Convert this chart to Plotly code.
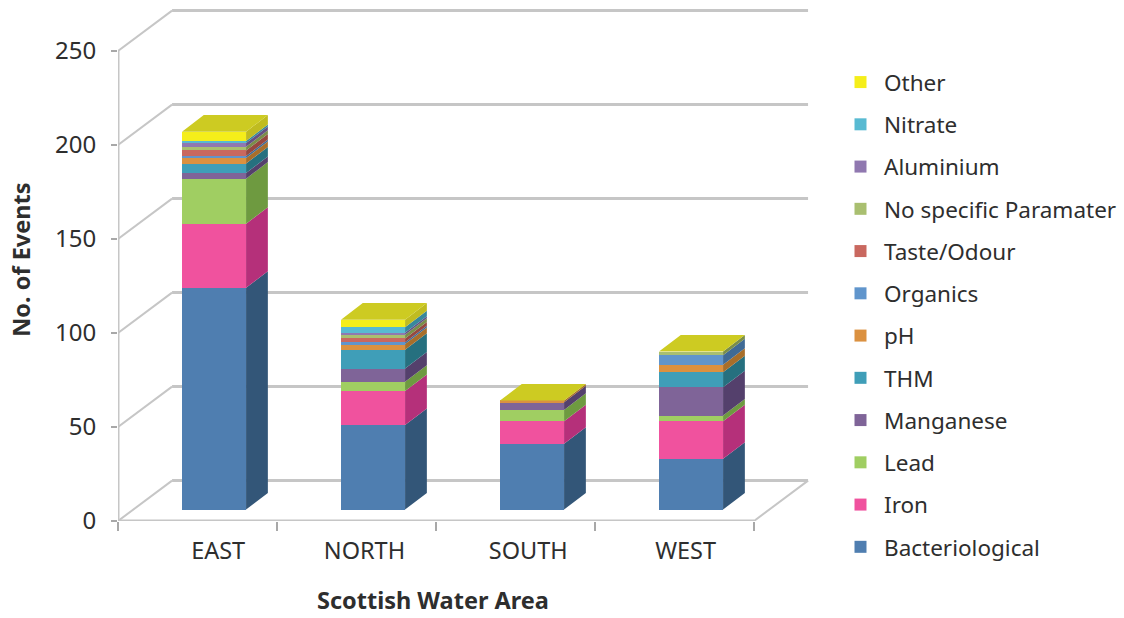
import plotly.graph_objects as go

# Events per water-quality parameter, stacked from the bottom up
areas = ["EAST", "NORTH", "SOUTH", "WEST"]
bacteriological = [118, 45, 35, 27]
iron = [34, 18, 12, 20]
lead = [24, 5, 6, 3]
manganese = [3, 7, 4, 15]
thm = [5, 10, 0, 8]
ph = [3, 3, 1, 4]
organics = [1, 1, 0, 5]
taste_odour = [3, 2, 0, 0]
no_specific = [2, 2, 0, 2]
aluminium = [2, 1, 0, 0]
nitrate = [1, 3, 0, 0]
other = [5, 4, 0, 0]

series = [
    ("Bacteriological", bacteriological, "#4F7EB0", "#335678"),
    ("Iron", iron, "#F0529E", "#B5307A"),
    ("Lead", lead, "#A0CE62", "#6E9A40"),
    ("Manganese", manganese, "#7F6498", "#54406C"),
    ("THM", thm, "#3F9EB8", "#26707F"),
    ("pH", ph, "#DB9140", "#A86E2A"),
    ("Organics", organics, "#6095CC", "#3F6A95"),
    ("Taste/Odour", taste_odour, "#C9685F", "#964840"),
    ("No specific Paramater", no_specific, "#A9BF70", "#7A8E4A"),
    ("Aluminium", aluminium, "#9078B0", "#645084"),
    ("Nitrate", nitrate, "#58BAD2", "#38889C"),
    ("Other", other, "#F5EE1A", "#C0BC20"),
]
top_colour = "#CDCB22"
y_ticks = [0, 50, 100, 150, 200, 250]
label_positions = [0.63, 1.55, 2.58, 3.57]

# Oblique projection, in axis units
bar_centre = 0.604
bar_width = 0.403
bar_lift = 6.1
bar_dx, bar_dy = 0.137, 8.8
wall_dx, wall_dy = 0.34, 21.5
wall_colour = "#C6C6C6"

fig = go.Figure()
centres = [i + bar_centre for i in range(len(areas))]
heights = [bar_lift] * len(areas)
side_polys = []

for rank, (name, values, front, side) in enumerate(series):
    fig.add_trace(go.Bar(
        x=centres, y=values, base=list(heights), width=bar_width, name=name,
        marker=dict(color=front, line_width=0), legendgroup=name,
        legendrank=1000 - rank, hoverinfo="name+y",
    ))
    xs, ys = [], []
    for c, b, v in zip(centres, heights, values):
        if v == 0:
            continue
        r = c + bar_width / 2
        xs += [r, r + bar_dx, r + bar_dx, r, r, None]
        ys += [b, b + bar_dy, b + v + bar_dy, b + v, b, None]
    side_polys.append((xs, ys, side))
    heights = [h + v for h, v in zip(heights, values)]

for xs, ys, side in side_polys:
    fig.add_trace(go.Scatter(
        x=xs, y=ys, mode="none", fill="toself", fillcolor=side,
        showlegend=False, hoverinfo="skip",
    ))

# Top faces of the columns
xs, ys = [], []
for c, h in zip(centres, heights):
    l, r = c - bar_width / 2, c + bar_width / 2
    xs += [l, r, r + bar_dx, l + bar_dx, l, None]
    ys += [h, h, h + bar_dy, h + bar_dy, h, None]
fig.add_trace(go.Scatter(
    x=xs, y=ys, mode="none", fill="toself", fillcolor=top_colour,
    showlegend=False, hoverinfo="skip",
))


def wall_line(x0, y0, x1, y1, width):
    return dict(type="line", xref="x", yref="y", x0=x0, y0=y0, x1=x1, y1=y1,
                layer="below", line=dict(color=wall_colour, width=width))


n = len(areas)
shapes = []
for t in y_ticks:
    shapes.append(wall_line(0, t, wall_dx, t + wall_dy, 2))
    shapes.append(wall_line(wall_dx, t + wall_dy, n + wall_dx, t + wall_dy, 3))
shapes.append(wall_line(0, 0, 0, y_ticks[-1], 3))
shapes.append(wall_line(0, 0, n, 0, 3))
shapes.append(wall_line(n, 0, n + wall_dx, wall_dy, 2))

text_font = dict(family="Noto Sans", color="#2E2E2E")

fig.update_layout(
    width=1124, height=618,
    margin=dict(l=118, r=312, t=4, b=96.5, autoexpand=False),
    paper_bgcolor="white", plot_bgcolor="white",
    barmode="overlay", bargap=0,
    shapes=shapes,
    xaxis=dict(
        range=[0, 694 / 159], showgrid=False, zeroline=False, showline=False,
        tickmode="array", tickvals=label_positions, ticktext=areas, ticks="",
        tickfont=dict(size=23.5, **text_font), ticklabelstandoff=13,
        minor=dict(tickmode="array", tickvals=list(range(n + 1)), ticks="outside",
                   ticklen=9, tickwidth=2, tickcolor="#A8A8A8"),
    ),
    yaxis=dict(
        range=[0, 275], showgrid=False, zeroline=False, showline=False,
        tickmode="array", tickvals=y_ticks, ticks="outside",
        ticklen=6, tickwidth=2, tickcolor="#A8A8A8",
        tickfont=dict(size=24, **text_font), ticklabelstandoff=10,
    ),
    legend=dict(
        x=(837 - 118) / 694, xanchor="left", y=(521.5 - 61) / 517.5, yanchor="top",
        traceorder="grouped", tracegroupgap=10, itemwidth=37,
        font=dict(size=22.5, **text_font), bgcolor="rgba(0,0,0,0)",
        itemclick=False, itemdoubleclick=False, maxheight=560,
    ),
    annotations=[
        dict(text="<b>Scottish Water Area</b>", xref="paper", yref="paper",
             x=(433 - 118) / 694, y=(521.5 - 601) / 517.5, showarrow=False,
             xanchor="center", yanchor="middle",
             font=dict(size=23.5, **text_font)),
        dict(text="<b>No. of Events</b>", xref="paper", yref="paper", textangle=-90,
             x=(21 - 118) / 694, y=(521.5 - 260) / 517.5, showarrow=False,
             xanchor="center", yanchor="middle",
             font=dict(size=23.5, **text_font)),
    ],
    showlegend=True,
)

fig.write_html("out.html")
